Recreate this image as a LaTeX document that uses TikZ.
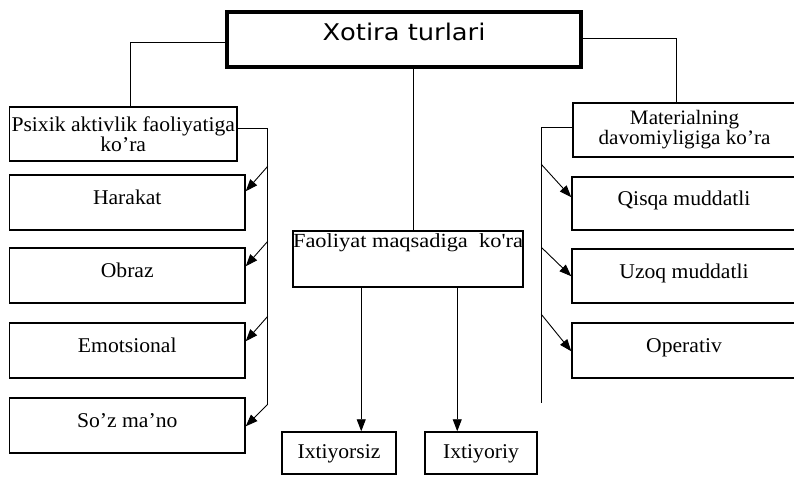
\documentclass[tikz,border=0pt]{standalone}
\usepackage{fontspec}
\setmainfont{Liberation Serif}[FakeStretch=1.03]
\newfontfamily\titlefont{DejaVu Sans}[FakeStretch=1.12]
\newfontfamily\faofont{Liberation Serif}[FakeStretch=1.12]
\usetikzlibrary{arrows.meta,calc}
\begin{document}
\begin{tikzpicture}[x=1pt,y=-1pt,
  box/.style={draw, line width=1.5pt, rectangle, inner sep=0pt, align=center,
    font=\fontsize{21}{18}\selectfont},
  sbox/.style={box, text height=15pt, text depth=11pt},
  bbox/.style={box, text height=14pt, text depth=4pt},
  conn/.style={line width=0.9pt},
  arr/.style={line width=0.9pt, -{Triangle[length=12pt,width=9pt]}}]
\useasboundingbox (0,0) rectangle (794,477);
\clip (0,0) rectangle (794,477);

% title
\node[box, line width=3.2pt, minimum width=354pt, minimum height=55pt,
      text height=28pt, text depth=27pt, font=\titlefont\fontsize{23}{26}\selectfont]
      (t) at (404,39.5) {Xotira turlari};

% left column
\node[box, minimum width=227.5pt, minimum height=54pt] (psy) at (123.25,134)
      {Psixik aktivlik faoliyatiga\\ko'ra};
\node[sbox, minimum width=235.5pt, minimum height=55pt] (har) at (127.25,202.5) {Harakat};
\node[sbox, minimum width=235.5pt, minimum height=55pt] (obr) at (127.25,275.5) {Obraz};
\node[sbox, minimum width=235.5pt, minimum height=55pt] (emo) at (127.25,350.5) {Emotsional};
\node[sbox, minimum width=235.5pt, minimum height=55pt] (soz) at (127.25,425.5) {So'z ma'no};

% right column
\node[box, minimum width=223pt, minimum height=54pt, font=\fontsize{20.5}{20}\selectfont] (mat) at (684.5,130)
      {Materialning\\davomiyligiga ko'ra};
\node[sbox, minimum width=224pt, minimum height=53pt] (qis) at (684,203.5) {Qisqa muddatli};
\node[sbox, minimum width=224pt, minimum height=54pt] (uzo) at (684,276) {Uzoq muddatli};
\node[sbox, minimum width=224pt, minimum height=55pt] (ope) at (684,350.5) {Operativ};

% centre
\node[box, minimum width=230pt, minimum height=56pt, text height=16pt, text depth=40pt,
      font=\faofont\fontsize{20}{19}\selectfont]
      (fao) at (408,259) {Faoliyat maqsadiga\ \ ko'ra};
\node[bbox, minimum width=114pt, minimum height=42pt] (ixs) at (339,453) {Ixtiyorsiz};
\node[bbox, minimum width=112pt, minimum height=42pt] (ixr) at (481,453) {Ixtiyoriy};

% title connectors
\draw[conn] ($(t.west)+(0,2.5)$) -| ($(psy.north)+(7,0)$);
\draw[conn] ($(t.east)+(0,-1.5)$) -| ($(mat.north)+(-8.5,0)$);
\coordinate (c0) at ($(fao.north)+(5,0)$);
\draw[conn] (c0 |- t.south) -- (c0);

% left bus
\draw[conn] ($(psy.east)+(0,-6)$) -- ++(30,0) coordinate (lbt) -- ++(0,277) coordinate (lbb);
\coordinate (h1) at ($(har.north east)+(0,17)$);
\coordinate (h2) at ($(obr.north east)+(0,19)$);
\coordinate (h3) at ($(emo.north east)+(0,19)$);
\coordinate (h4) at ($(soz.north east)+(0,29)$);
\draw[arr] ($(lbt |- h1)+(0,-25)$) -- (h1);
\draw[arr] ($(lbt |- h2)+(0,-25)$) -- (h2);
\draw[arr] ($(lbt |- h3)+(0,-25)$) -- (h3);
\draw[arr] ($(lbt |- h4)+(0,-22)$) -- (h4);

% right bus
\draw[conn] ($(mat.west)+(0,-3)$) -- ++(-31,0) coordinate (rbt) -- ++(0,276) coordinate (rbb);
\coordinate (r1) at ($(qis.north west)+(0,21)$);
\coordinate (r2) at ($(uzo.north west)+(0,28)$);
\coordinate (r3) at ($(ope.north west)+(0,29)$);
\draw[arr] ($(rbt |- r1)+(0,-33)$) -- (r1);
\draw[arr] ($(rbt |- r2)+(0,-29)$) -- (r2);
\draw[arr] ($(rbt |- r3)+(0,-37)$) -- (r3);

% centre arrows
\coordinate (f1) at ($(fao.south west)+(69,0)$);
\coordinate (f2) at ($(fao.south west)+(165,0)$);
\draw[arr] (f1) -- (f1 |- ixs.north);
\draw[arr] (f2) -- (f2 |- ixr.north);
\end{tikzpicture}
\end{document}
